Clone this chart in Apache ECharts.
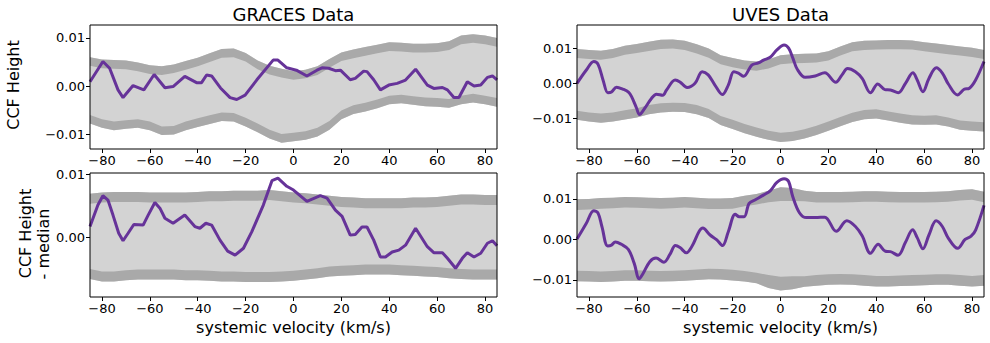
<!DOCTYPE html>
<html>
<head>
<meta charset="utf-8">
<script src="https://cdn.jsdelivr.net/npm/echarts@6/dist/echarts.min.js"></script>
<style>
  html, body { margin: 0; padding: 0; background: #fff; }
  #main { width: 990px; height: 343px; }
</style>
</head>
<body>
<div id="main"></div>
<script>
// all CCF heights below are in units of 1e-3
var MILLI = 0.001;

var bandVel = [-85,-80,-75,-70,-65,-60,-55,-50,-45,-40,-35,-30,-25,-20,-15,-10,-5,0,5,10,15,20,25,30,35,40,45,50,55,60,65,70,75,80,85];
var velTicks = [-80,-60,-40,-20,0,20,40,60,80];

// GRACES, raw CCF height
var gracesVel = [-85,-79.6,-76.8,-73.3,-71.2,-67,-62.5,-58.2,-53.7,-50.3,-45.4,-40.5,-38.4,-36.3,-34.2,-30.5,-26.5,-23.7,-20.2,-15.3,-8.5,-6.5,-2.8,1.2,5.6,9.8,11.9,14.7,17.5,19.6,23.7,25.8,29.3,30.7,33.5,36.3,39.8,43.3,46.8,51,55.9,58.6,62.2,64.3,67,69.1,72.6,75.4,78.2,81,83.1,85];
var gracesCcf = [0.9,5.1,3.7,-0.8,-2.4,0.1,-0.8,2.4,-0.35,-0.1,2.0,0.7,0.7,2.3,2.1,-0.4,-2.4,-2.8,-1.9,1.3,5.4,5.4,3.8,3.3,2.1,3.3,3.8,3.7,3.2,3.3,1.3,1.6,3.1,3.0,1.3,-0.8,0.2,0.55,1.25,3.5,0.2,-0.5,-0.3,-0.8,-2.4,-2.4,0.9,0,0.2,1.8,2.1,1.3];
var gracesUpOut = [6.0,5.5,5.4,5.3,4.9,4.3,4.1,4.5,5.2,5.9,6.8,7.7,7.8,6.9,5.3,4.2,3.6,3.1,3.4,4.1,5.6,7.0,7.6,8.1,8.6,9.1,9.0,8.8,8.8,8.9,9.3,10.5,10.8,10.5,10.0];
var gracesUpIn = [4.2,3.7,3.6,3.5,3.1,2.5,2.3,2.7,3.4,4.1,5.0,5.9,6.0,5.1,3.5,2.4,1.8,1.3,1.6,2.3,3.8,5.2,5.8,6.3,6.8,7.3,7.2,7.0,7.0,7.1,7.5,8.7,9.0,8.7,8.2];
var gracesLoIn = [-6.0,-6.9,-7.4,-7.1,-6.9,-7.4,-8.4,-8.3,-7.4,-6.7,-6.1,-5.5,-5.6,-6.6,-7.8,-9.1,-10.0,-9.7,-9.4,-8.7,-7.3,-5.1,-4.0,-3.5,-2.8,-2.0,-1.8,-2.1,-2.4,-2.5,-2.7,-2.0,-1.6,-2.0,-2.5];
var gracesLoOut = [-7.8,-8.7,-9.2,-8.9,-8.7,-9.2,-10.2,-10.1,-9.2,-8.5,-7.9,-7.3,-7.4,-8.4,-9.6,-10.9,-11.8,-11.5,-11.2,-10.5,-9.1,-6.9,-5.8,-5.3,-4.6,-3.8,-3.6,-3.9,-4.2,-4.3,-4.5,-3.8,-3.4,-3.8,-4.3];

// UVES, raw CCF height
var uvesVel = [-85,-81.1,-78,-76.2,-74.1,-72.1,-70.6,-68.5,-65.7,-63.5,-62.2,-60.1,-58.9,-56.7,-53.9,-51.8,-49.2,-47.6,-44,-42,-39,-35.7,-32.7,-30.2,-27.4,-24.3,-21.8,-19.5,-17.6,-15.4,-12,-9.2,-7.1,-4.3,-1.5,1.5,3.4,5.2,7,10.3,14.5,18.5,23.1,25.7,28,31.3,34.1,37.6,40.6,43.6,45.9,49.2,52.2,55.3,57.1,59.5,62,65.1,67.6,70.1,73.9,76.7,78.9,81.5,85];
var uvesCcf = [0.0,3.8,6.2,5.4,0.9,-2.7,-2.5,-1.1,-1.7,-2.5,-3.8,-7.1,-8.9,-7.1,-4.3,-3.1,-3.4,-1.9,0.95,0.4,-1.2,0.0,3.3,2.4,-0.5,-3.2,-0.5,3.3,2.9,2.0,5.2,5.8,6.6,7.4,9.5,10.9,10.0,7.1,4.0,1.7,2.1,3.0,0.3,2.4,4.2,3.3,1.4,-2.7,-0.2,-1.8,-1.9,-2.7,0.0,3.0,0.95,-2.4,1.4,4.4,2.9,-0.2,-3.3,-1.7,-1.4,0.95,6.2];
var uvesUpOut = [9.8,9.5,9.3,9.8,10.7,11.2,11.8,12.4,12.5,12.1,11.1,9.9,8.0,7.2,6.5,6.2,6.8,8.0,8.3,8.4,8.5,9.1,10.5,11.7,12.1,12.2,12.3,12.3,12.2,11.7,11.3,10.9,10.5,10.1,9.5];
var uvesUpIn = [7.2,6.9,6.7,7.2,8.1,8.6,9.2,9.8,9.9,9.5,8.5,7.3,5.4,4.6,3.9,3.6,4.2,5.4,5.7,5.8,5.9,6.5,7.9,9.1,9.5,9.6,9.7,9.7,9.6,9.1,8.7,8.3,7.9,7.5,6.9];
var uvesLoIn = [-7.8,-8.3,-8.6,-8.3,-7.7,-7.1,-6.2,-5.7,-5.5,-5.6,-6.2,-7.3,-9.3,-10.4,-11.6,-12.6,-13.5,-14.1,-13.8,-13.1,-12.1,-10.9,-9.6,-8.4,-7.6,-7.4,-8.0,-8.6,-9.1,-9.2,-9.1,-9.7,-10.6,-10.9,-11.1];
var uvesLoOut = [-10.4,-10.9,-11.2,-10.9,-10.3,-9.7,-8.8,-8.3,-8.1,-8.2,-8.8,-9.9,-11.9,-13.0,-14.2,-15.2,-16.1,-16.7,-16.4,-15.7,-14.7,-13.5,-12.2,-11.0,-10.2,-10.0,-10.6,-11.2,-11.7,-11.8,-11.7,-12.3,-13.2,-13.5,-13.7];

// GRACES, CCF height minus median
var gracesMedVel = [-85,-81.7,-79.6,-77.5,-75.4,-73,-71.2,-69.1,-66.7,-62.8,-60.7,-57.9,-55.8,-53.7,-50.3,-45.4,-41.2,-39.1,-36.6,-34.2,-30.7,-27.5,-24.4,-20.9,-17.4,-12.6,-9,-6.5,-2.8,0,5.6,11.2,14,17.5,20.3,23.7,25.8,28.6,30.7,33.5,36.3,38.4,41.2,44,46.8,51,55.9,58.6,62.2,64.3,67.7,70.5,72.6,75.4,78.2,81,83.1,85];
var gracesMedCcf = [1.66,5.1,6.6,5.9,3.5,0.6,-0.6,0.6,2.0,1.9,3.5,5.5,4.6,3.0,2.2,3.5,1.66,1.4,2.2,1.9,-0.5,-2.25,-2.9,-1.8,0.86,5.1,9.0,9.4,8.1,7.5,5.7,6.6,6.2,4.3,3.3,0.3,0.4,1.6,1.6,-0.5,-3.2,-3.2,-2.4,-2.1,-1.3,1.4,-1.55,-2.5,-2.5,-3.4,-5.0,-3.4,-2.5,-3.2,-2.6,-1.0,-0.6,-1.4];
var gracesMedUpOut = [6.9,7.1,7.2,7.2,7.2,7.1,7.1,7.1,7.1,7.2,7.3,7.3,7.4,7.4,7.4,7.5,7.3,7.1,7.0,6.8,6.6,6.4,6.3,6.2,6.2,6.2,6.2,6.3,6.3,6.4,6.6,6.8,6.8,6.7,6.7];
var gracesMedUpIn = [5.3,5.5,5.6,5.6,5.6,5.5,5.5,5.5,5.5,5.6,5.7,5.7,5.8,5.8,5.8,5.9,5.7,5.5,5.4,5.2,5.0,4.8,4.7,4.6,4.6,4.6,4.6,4.7,4.7,4.8,5.0,5.2,5.2,5.1,5.1];
var gracesMedLoIn = [-5.1,-5.5,-5.5,-5.3,-5.2,-5.2,-5.2,-5.2,-5.3,-5.3,-5.4,-5.5,-5.5,-5.6,-5.6,-5.6,-5.5,-5.4,-5.2,-5.0,-4.7,-4.6,-4.5,-4.4,-4.4,-4.4,-4.5,-4.6,-4.7,-4.8,-5.0,-5.1,-5.2,-5.2,-5.2];
var gracesMedLoOut = [-6.7,-7.1,-7.1,-6.9,-6.8,-6.8,-6.8,-6.8,-6.9,-6.9,-7.0,-7.1,-7.1,-7.2,-7.2,-7.2,-7.1,-7.0,-6.8,-6.6,-6.3,-6.2,-6.1,-6.0,-6.0,-6.0,-6.1,-6.2,-6.3,-6.4,-6.6,-6.7,-6.8,-6.8,-6.8];

// UVES, CCF height minus median
var uvesMedVel = [-85,-81.1,-78,-76.2,-74.6,-72.2,-70.6,-69,-66.5,-63.5,-61.1,-59,-57.4,-54.6,-52,-48.7,-46.2,-43.9,-42,-39.3,-37.1,-32.4,-29.4,-26.6,-24.2,-21.8,-18.9,-17.2,-15.2,-13.1,-10.5,-7,-4.3,-1.5,1.5,3.4,5.1,7.9,10.8,14.5,18.5,23.3,27.7,31.3,34.1,37.6,40.8,43.8,45.9,49.1,52.2,55.2,57.1,59.5,62,65,67.6,70,74,77.1,79.6,81.5,85];
var uvesMedCcf = [0.1,4.0,7.1,6.5,3.2,-1.6,-1.4,-0.6,-1.2,-2.5,-5.9,-9.7,-8.4,-5.5,-4.6,-5.6,-3.7,-1.5,-2.0,-3.3,-1.8,2.8,1.1,-0.1,-1.5,1.9,6.2,5.6,5.6,8.9,9.8,11.0,12.0,14.1,15.0,14.3,10.6,6.6,5.4,5.4,5.5,2.0,4.6,3.2,0.9,-3.4,-1.2,-2.9,-3.0,-3.9,-0.7,2.4,0.45,-2.3,1.1,4.6,3.2,0.4,-2.2,0.0,0.8,2.3,8.4];
var uvesMedUpOut = [9.9,10.0,10.2,10.3,10.5,10.4,10.3,10.2,10.3,10.5,10.3,10.1,10.1,10.2,10.8,11.2,12.0,12.9,12.7,12.0,11.7,11.7,11.7,11.8,11.9,11.9,11.8,11.7,11.7,11.7,11.8,11.9,12.2,12.4,11.8];
var uvesMedUpIn = [7.3,7.4,7.6,7.7,7.9,7.8,7.7,7.6,7.7,7.9,7.7,7.5,7.5,7.6,8.2,8.6,9.2,9.5,9.5,9.4,9.1,9.1,9.1,9.2,9.3,9.3,9.2,9.1,9.1,9.1,9.2,9.3,9.6,9.8,9.2];
var uvesMedLoIn = [-7.7,-7.8,-7.9,-7.8,-7.6,-7.6,-7.7,-7.8,-7.7,-7.6,-7.4,-7.2,-7.3,-7.5,-7.8,-8.2,-8.8,-9.2,-9.1,-9.1,-8.8,-8.6,-8.5,-8.6,-8.8,-9.0,-9.0,-8.9,-8.8,-8.7,-8.6,-8.6,-8.8,-9.0,-8.8];
var uvesMedLoOut = [-10.3,-10.4,-10.5,-10.4,-10.2,-10.2,-10.3,-10.4,-10.3,-10.2,-10.0,-9.8,-9.9,-10.1,-10.4,-10.8,-12.0,-12.6,-12.3,-11.7,-11.4,-11.2,-11.1,-11.2,-11.4,-11.6,-11.6,-11.5,-11.4,-11.3,-11.2,-11.2,-11.4,-11.6,-11.4];

var LIGHT = '#d3d3d3', DARK = '#a9a9a9', PURPLE = '#663399';
var FONT = 'DejaVu Sans';

var panels = [
  { vel: gracesVel, ccf: gracesCcf, upOut: gracesUpOut, upIn: gracesUpIn, loIn: gracesLoIn, loOut: gracesLoOut,
    yMin: -0.0131, yMax: 0.0127, yTicks: [-0.01, 0, 0.01], smooth: false,
    grid: { left: 90, top: 25, width: 407, height: 124 } },
  { vel: uvesVel, ccf: uvesCcf, upOut: uvesUpOut, upIn: uvesUpIn, loIn: uvesLoIn, loOut: uvesLoOut,
    yMin: -0.0187, yMax: 0.0166, yTicks: [-0.01, 0, 0.01], smooth: 0.35,
    grid: { left: 577, top: 25, width: 407, height: 124 } },
  { vel: gracesMedVel, ccf: gracesMedCcf, upOut: gracesMedUpOut, upIn: gracesMedUpIn, loIn: gracesMedLoIn, loOut: gracesMedLoOut,
    yMin: -0.00958, yMax: 0.01022, yTicks: [0, 0.01], smooth: false,
    grid: { left: 90, top: 173, width: 407, height: 124 } },
  { vel: uvesMedVel, ccf: uvesMedCcf, upOut: uvesMedUpOut, upIn: uvesMedUpIn, loIn: uvesMedLoIn, loOut: uvesMedLoOut,
    yMin: -0.0142, yMax: 0.0164, yTicks: [-0.01, 0, 0.01], smooth: 0.35,
    grid: { left: 577, top: 173, width: 407, height: 124 } }
];

function minusSign(s) { return s.replace('-', '\u2212'); }

function bandRenderer(p) {
  return function (params, api) {
    function poly(top, bottom, color) {
      var pts = [];
      for (var i = 0; i < bandVel.length; i++) pts.push(api.coord([bandVel[i], top[i] * MILLI]));
      for (var j = bandVel.length - 1; j >= 0; j--) pts.push(api.coord([bandVel[j], bottom[j] * MILLI]));
      return { type: 'polygon', shape: { points: pts }, style: { fill: color } };
    }
    return {
      type: 'group',
      children: [
        poly(p.upOut, p.loOut, LIGHT),
        poly(p.upOut, p.upIn, DARK),
        poly(p.loIn, p.loOut, DARK)
      ]
    };
  };
}

var grids = [], xAxes = [], yAxes = [], series = [];
panels.forEach(function (p, i) {
  grids.push(Object.assign({ show: true, borderColor: '#000', borderWidth: 1, z: 10, backgroundColor: 'transparent' }, p.grid));
  xAxes.push({
    type: 'value', gridIndex: i, min: -85, max: 85,
    name: i >= 2 ? 'systemic velocity (km/s)' : '',
    nameLocation: 'middle', nameGap: 22,
    nameTextStyle: { fontFamily: FONT, fontSize: 16, color: '#000' },
    axisLine: { show: false, onZero: false },
    axisTick: { show: true, length: 4, customValues: velTicks, lineStyle: { color: '#000', width: 1 } },
    axisLabel: { customValues: velTicks, margin: 5, fontFamily: FONT, fontSize: 13, color: '#000',
      formatter: function (v) { return minusSign(String(v)); } },
    splitLine: { show: false }
  });
  yAxes.push({
    type: 'value', gridIndex: i, min: p.yMin, max: p.yMax,
    axisLine: { show: false, onZero: false },
    axisTick: { show: true, length: 4, customValues: p.yTicks, lineStyle: { color: '#000', width: 1 } },
    axisLabel: { customValues: p.yTicks, margin: 5, fontFamily: FONT, fontSize: 13, color: '#000',
      formatter: function (v) { return minusSign(v.toFixed(2)); } },
    splitLine: { show: false }
  });
  series.push({
    type: 'custom', xAxisIndex: i, yAxisIndex: i, silent: true, z: 1,
    data: [[0, 0]], renderItem: bandRenderer(p)
  });
  series.push({
    type: 'line', xAxisIndex: i, yAxisIndex: i, silent: true, z: 3,
    showSymbol: false, smooth: p.smooth,
    lineStyle: { color: PURPLE, width: 3 },
    data: p.vel.map(function (v, k) { return [v, p.ccf[k] * MILLI]; })
  });
});

function label(text, x, y, size, rotate) {
  return { type: 'text', x: x, y: y, rotation: rotate ? Math.PI / 2 : 0, silent: true,
    style: { text: text, fill: '#000', fontFamily: FONT, fontSize: size, align: 'center', verticalAlign: 'middle' } };
}

var chart = echarts.init(document.getElementById('main'), null, { renderer: 'svg' });
chart.setOption({
  animation: false,
  backgroundColor: '#fff',
  grid: grids,
  xAxis: xAxes,
  yAxis: yAxes,
  series: series,
  graphic: [
    label('GRACES Data', 293.5, 14.5, 18),
    label('UVES Data', 780.5, 14.5, 18),
    label('CCF Height', 13.5, 85, 16, true),
    label('CCF Height', 25, 233.5, 16, true),
    label('- median', 43, 244, 16, true)
  ]
});
</script>
</body>
</html>
